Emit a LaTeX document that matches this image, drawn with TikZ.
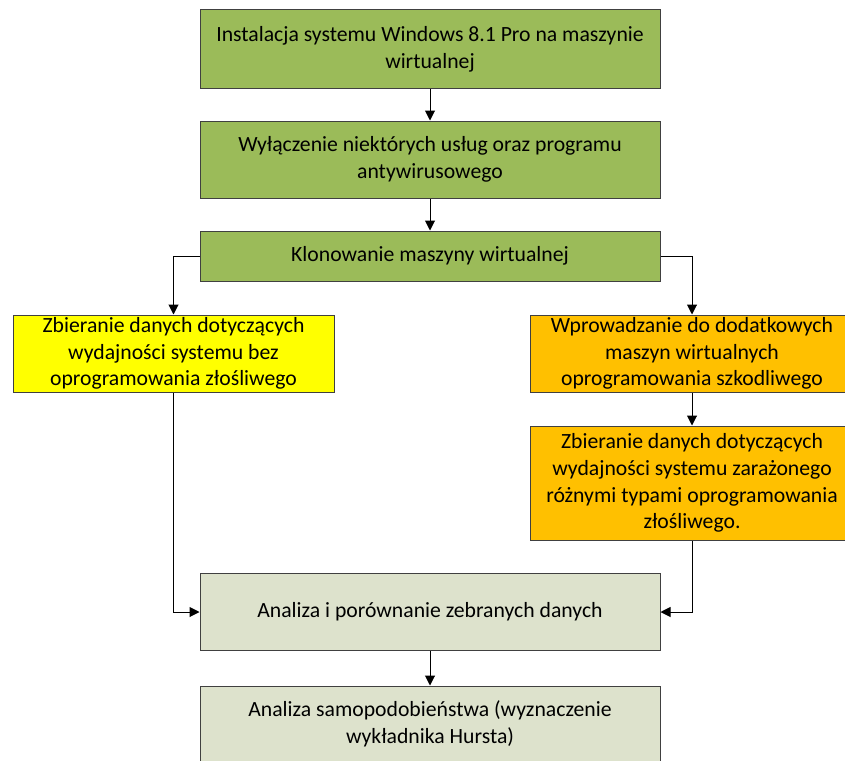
\documentclass[tikz,border=0pt]{standalone}
\usepackage{fontspec}
\setmainfont{Carlito}
\usetikzlibrary{arrows.meta}
\definecolor{cgreen}{HTML}{9BBB59}
\definecolor{cyellow}{HTML}{FFFF00}
\definecolor{corange}{HTML}{FFC000}
\definecolor{clight}{HTML}{DDE2CC}
\definecolor{cborder}{HTML}{404040}
\tikzset{
  box/.style={draw=cborder, line width=1pt, align=center, inner sep=0pt,
    font=\fontsize{21.7}{26.7}\selectfont, text=black},
  arr/.style={draw=black, line width=1pt, -{Triangle[length=10pt,width=10pt]}}
}
\begin{document}
\begin{tikzpicture}[x=1pt,y=-1pt]
\useasboundingbox (0,0) rectangle (845,760);
\node[box, fill=cgreen, minimum width=460pt, minimum height=78pt] (b1) at (430,49)
  {Instalacja systemu Windows 8.1 Pro na maszynie\\wirtualnej};
\node[box, fill=cgreen, minimum width=460pt, minimum height=77pt] (b2) at (430,159.5)
  {Wyłączenie niektórych usług oraz programu\\antywirusowego};
\node[box, fill=cgreen, minimum width=460pt, minimum height=50pt] (b3) at (430,256)
  {Klonowanie maszyny wirtualnej};
\node[box, fill=cyellow, minimum width=321pt, minimum height=77pt] (b4) at (173.5,353.5)
  {Zbieranie danych dotyczących\\wydajności systemu bez\\oprogramowania złośliwego};
\node[box, fill=corange, minimum width=324pt, minimum height=77pt] (b5) at (692,353.5)
  {Wprowadzanie do dodatkowych\\maszyn wirtualnych\\oprogramowania szkodliwego};
\node[box, fill=corange, minimum width=324pt, minimum height=114pt] (b6) at (692,483)
  {Zbieranie danych dotyczących\\wydajności systemu zarażonego\\różnymi typami oprogramowania\\złośliwego.};
\node[box, fill=clight, minimum width=460pt, minimum height=77pt] (b7) at (430,612)
  {Analiza i porównanie zebranych danych};
\node[box, fill=clight, minimum width=460pt, minimum height=76pt] (b8) at (430,724)
  {Analiza samopodobieństwa (wyznaczenie\\wykładnika Hursta)};
\draw[arr] (b1) -- (b2);
\draw[arr] (b2) -- (b3);
\draw[arr] (b3.west) -| (b4.north);
\draw[arr] (b3.east) -| (b5.north);
\draw[arr] (b5) -- (b6);
\draw[arr] (b4.south) |- (b7.west);
\draw[arr] (b6.south) |- (b7.east);
\draw[arr] (b7) -- (b8);
\end{tikzpicture}
\end{document}
